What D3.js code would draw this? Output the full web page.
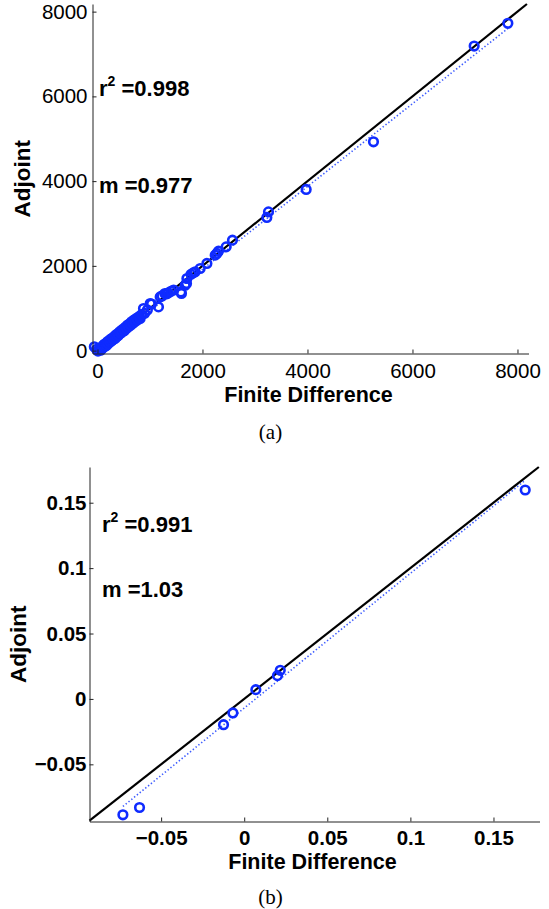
<!DOCTYPE html>
<html>
<head>
<meta charset="utf-8">
<script src="https://cdn.jsdelivr.net/npm/d3@7"></script>
<style>
  body { margin: 0; background: #fff; }
  svg { display: block; }
</style>
</head>
<body>
<div id="chart"></div>
<script>
// panel (a): finite difference vs adjoint sensitivities
const fdA = [-60, -20, 10, 30, 50, 60, 80, 100, 110, 130, 140, 160, 170, 190, 200, 220, 240, 250, 270, 290,
  300, 320, 340, 350, 370, 390, 400, 420, 440, 460, 470, 490, 510, 530, 550, 570, 590, 610, 630, 650,
  670, 690, 710, 740, 760, 790, 813, 840, 876, 900, 950, 1004, 1030, 1162, 1194, 1230, 1284, 1320, 1352, 1400,
  1450, 1588, 1600, 1670, 1696, 1703, 1780, 1823, 1861, 1956, 2084, 2242, 2274, 2305, 2451, 2571, 3226, 3257,
  3975, 5257, 7175, 7817];
const adjA = [90, 30, -10, 20, 60, 10, 40, 110, 70, 150, 100, 170, 120, 210, 160, 230, 200, 270, 230, 300,
  260, 330, 290, 370, 330, 400, 360, 440, 410, 480, 440, 510, 470, 550, 520, 600, 560, 630, 600, 680,
  640, 720, 680, 760, 720, 800, 758, 850, 994, 880, 960, 1112, 1100, 1032, 1268, 1290, 1348, 1340, 1362, 1400,
  1430, 1386, 1348, 1544, 1584, 1702, 1800, 1835, 1859, 1938, 2057, 2253, 2293, 2347, 2449, 2607, 3143, 3275,
  3804, 4928, 7188, 7724];
const ticksA = [0, 2000, 4000, 6000, 8000];
const fitA = {r2: "0.998", m: 0.977, b: -35};

// panel (b)
const fdB = [-0.0730, -0.0630, -0.01245, -0.0068, 0.0070, 0.0200, 0.0217, 0.1691];
const adjB = [-0.0886, -0.0830, -0.0197, -0.0107, 0.0071, 0.0178, 0.0219, 0.1597];
const ticksB = [-0.05, 0, 0.05, 0.1, 0.15];
const fitB = {r2: "0.991", m: 1.03, b: -0.007};

const width = 549, height = 909;
const sans = "'Liberation Sans', Arial, Helvetica, sans-serif";

const svg = d3.select("#chart").append("svg")
    .attr("width", width)
    .attr("height", height)
    .attr("viewBox", [0, 0, width, height]);

function Panel(fd, adj, fit, ticks, {
  left, right, top, bottom,
  xDomain, yDomain,
  tickWeight = "normal",
  xPad = 11, yPad = 5,
  format = d3.format("d"),
  xLabelY, yLabelX,
  r2Pos, mPos,
  caption, captionY
}) {
  const x = d3.scaleLinear().domain(xDomain).range([left, right]);
  const y = d3.scaleLinear().domain(yDomain).range([bottom, top]);
  const data = fd.map((d, i) => [d, adj[i]]);

  const g = svg.append("g");

  // y = x reference line across the whole box
  const lo = Math.max(xDomain[0], yDomain[0]), hi = Math.min(xDomain[1], yDomain[1]);
  g.append("line")
      .attr("x1", x(lo)).attr("y1", y(lo))
      .attr("x2", x(hi)).attr("y2", y(hi))
      .attr("stroke", "#000")
      .attr("stroke-width", 2.2);

  // least squares line (dotted), over the data range
  const [x0, x1] = d3.extent(fd);
  g.append("line")
      .attr("x1", x(x0)).attr("y1", y(fit.m * x0 + fit.b))
      .attr("x2", x(x1)).attr("y2", y(fit.m * x1 + fit.b))
      .attr("stroke", "#3d5cff")
      .attr("stroke-width", 1.6)
      .attr("stroke-dasharray", "1.4,2.2");

  g.append("g")
    .selectAll("circle")
    .data(data)
    .join("circle")
      .attr("cx", d => x(d[0]))
      .attr("cy", d => y(d[1]))
      .attr("r", 4.3)
      .attr("fill", "none")
      .attr("stroke", "#0f2bff")
      .attr("stroke-width", 2.6);

  const xAxis = g.append("g")
      .attr("transform", `translate(0,${bottom})`)
      .call(d3.axisBottom(x).tickValues(ticks).tickFormat(format)
        .tickSizeInner(-4).tickSizeOuter(0).tickPadding(xPad));
  const yAxis = g.append("g")
      .attr("transform", `translate(${left},0)`)
      .call(d3.axisLeft(y).tickValues(ticks).tickFormat(format)
        .tickSizeInner(-4).tickSizeOuter(0).tickPadding(yPad));

  [xAxis, yAxis].forEach(a => {
    a.attr("font-family", sans)
     .attr("font-size", 20.5)
     .attr("font-weight", tickWeight);
    a.select(".domain").attr("stroke", "#222");
    a.selectAll(".tick line").attr("stroke", "#222");
    a.selectAll(".tick text").attr("fill", "#000");
  });
  // inward ticks: keep labels just outside the axis line
  xAxis.selectAll(".tick text").attr("y", xPad);
  yAxis.selectAll(".tick text").attr("x", -yPad);

  g.append("text")
      .attr("x", (left + right) / 2 - 2)
      .attr("y", xLabelY)
      .attr("text-anchor", "middle")
      .attr("font-family", sans)
      .attr("font-size", 21.5)
      .attr("font-weight", "bold")
      .text("Finite Difference");

  g.append("text")
      .attr("transform", `translate(${yLabelX},${(top + bottom) / 2}) rotate(-90)`)
      .attr("text-anchor", "middle")
      .attr("font-family", sans)
      .attr("font-size", 22.5)
      .attr("font-weight", "bold")
      .text("Adjoint");

  const r2 = g.append("text")
      .attr("x", r2Pos[0])
      .attr("y", r2Pos[1])
      .attr("font-family", sans)
      .attr("font-size", 22)
      .attr("font-weight", "bold");
  r2.append("tspan").text("r");
  r2.append("tspan").attr("font-size", 14).attr("dy", -10).text("2");
  r2.append("tspan").attr("dy", 10).text(" =" + fit.r2);

  g.append("text")
      .attr("x", mPos[0])
      .attr("y", mPos[1])
      .attr("font-family", sans)
      .attr("font-size", 22)
      .attr("font-weight", "bold")
      .text("m =" + fit.m);

  g.append("text")
      .attr("x", width / 2 - 4)
      .attr("y", captionY)
      .attr("text-anchor", "middle")
      .attr("font-family", "'Liberation Serif', 'DejaVu Serif', serif")
      .attr("font-size", 21)
      .text(caption);
}

Panel(fdA, adjA, fitA, ticksA, {
  left: 92.5, right: 528.5, top: 4, bottom: 353.5,
  xDomain: [-95, 8210], yDomain: [-68, 8180],
  xPad: 10, yPad: 5,
  format: d3.format("d"),
  xLabelY: 402, yLabelX: 30,
  r2Pos: [99, 96], mPos: [99, 193],
  caption: "(a)", captionY: 439
});

Panel(fdB, adjB, fitB, ticksB, {
  left: 89.5, right: 539.5, top: 467, bottom: 821.5,
  xDomain: [-0.0931, 0.1777], yDomain: [-0.0937, 0.1773],
  tickWeight: "bold",
  xPad: 8.5, yPad: 3,
  format: d3.format("~g"),
  xLabelY: 869, yLabelX: 26,
  r2Pos: [102, 532], mPos: [102, 597],
  caption: "(b)", captionY: 904
});
</script>
</body>
</html>
